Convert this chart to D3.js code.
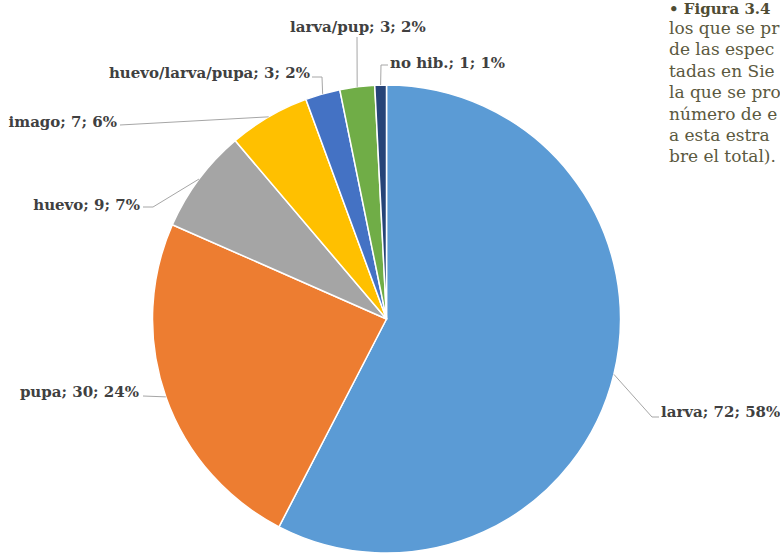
<!DOCTYPE html>
<html>
<head>
<meta charset="utf-8">
<script src="https://cdn.jsdelivr.net/npm/d3@7"></script>
<style>
  html, body { margin: 0; padding: 0; background: #fff; overflow: hidden; }
  svg { display: block; }
</style>
</head>
<body>
<svg id="chart" width="780" height="553"></svg>
<script>
// Overwintering stage of the species: number of species and share of the total
const categories = ["larva", "pupa", "huevo", "imago", "huevo/larva/pupa", "larva/pup", "no hib."];
const counts     = [72, 30, 9, 7, 3, 3, 1];
const percents   = [58, 24, 7, 6, 2, 2, 1];
const colors     = ["#5B9BD5", "#ED7D31", "#A5A5A5", "#FFC000", "#4472C4", "#70AD47", "#264478"];

// Side caption, cut by the page edge
const captionTitle = "• Figura 3.4";
const captionLines = [
  "los que se pr",
  "de las espec",
  "tadas en Sie",
  "la que se pro",
  "número de e",
  "a esta estra",
  "bre el total)."
];

// Label placement: text anchor point and leader-line elbows
const labelLayout = {
  "larva":            { x: 661, y: 417, anchor: "start", path: [[652, 417], [659, 417]] },
  "pupa":             { x: 139, y: 397, anchor: "end",   path: [[143, 396]] },
  "huevo":            { x: 140, y: 210, anchor: "end",   path: [[153, 207], [143, 207]] },
  "imago":            { x: 117, y: 127, anchor: "end",   path: [[120, 125]] },
  "huevo/larva/pupa": { x: 310, y: 78,  anchor: "end",   path: [[322, 77], [312, 77]] },
  "larva/pup":        { x: 290, y: 32,  anchor: "start", path: [[357, 37]] },
  "no hib.":          { x: 390, y: 68,  anchor: "start", path: [[381, 65], [388, 65]] }
};

const svg = d3.select("#chart");
const cx = 386.5, cy = 319, r = 234;

const data = categories.map((c, i) => ({ name: c, value: counts[i], pct: percents[i], color: colors[i] }));

const pie = d3.pie().value(d => d.value).sort(null);
const arcs = pie(data);
const arc = d3.arc().innerRadius(0).outerRadius(r);

const g = svg.append("g").attr("transform", `translate(${cx},${cy})`);

g.selectAll("path.slice")
  .data(arcs)
  .enter().append("path")
  .attr("class", "slice")
  .attr("d", arc)
  .attr("fill", d => d.data.color)
  .attr("stroke", "#fff")
  .attr("stroke-width", 1.5)
  .attr("stroke-linejoin", "round");

// Leader lines from the slice rim to the labels
const line = d3.line();
svg.selectAll("path.leader")
  .data(arcs)
  .enter().append("path")
  .attr("class", "leader")
  .attr("fill", "none")
  .attr("stroke", "#a6a6a6")
  .attr("stroke-width", 1)
  .attr("d", d => {
    const a = (d.startAngle + d.endAngle) / 2;
    const p0 = [cx + r * Math.sin(a), cy - r * Math.cos(a)];
    return line([p0, ...labelLayout[d.data.name].path]);
  });

svg.selectAll("text.label")
  .data(arcs)
  .enter().append("text")
  .attr("class", "label")
  .attr("x", d => labelLayout[d.data.name].x)
  .attr("y", d => labelLayout[d.data.name].y)
  .attr("text-anchor", d => labelLayout[d.data.name].anchor)
  .attr("font-family", "'DejaVu Serif', serif")
  .attr("font-weight", "bold")
  .attr("font-size", 15)
  .attr("fill", "#404040")
  .text(d => `${d.data.name}; ${d.data.value}; ${d.data.pct}%`);

// Caption block at the top right
const cap = svg.append("g")
  .attr("font-family", "'DejaVu Serif', serif")
  .attr("fill", "#5b5940");

cap.append("text")
  .attr("x", 669).attr("y", 14)
  .attr("font-size", 15)
  .attr("font-weight", "bold")
  .attr("fill", "#4f4c33")
  .text(captionTitle);

cap.selectAll("text.cap")
  .data(captionLines)
  .enter().append("text")
  .attr("class", "cap")
  .attr("x", 669)
  .attr("y", (d, i) => 34 + i * 21.4)
  .attr("font-size", 17)
  .text(d => d);
</script>
</body>
</html>
